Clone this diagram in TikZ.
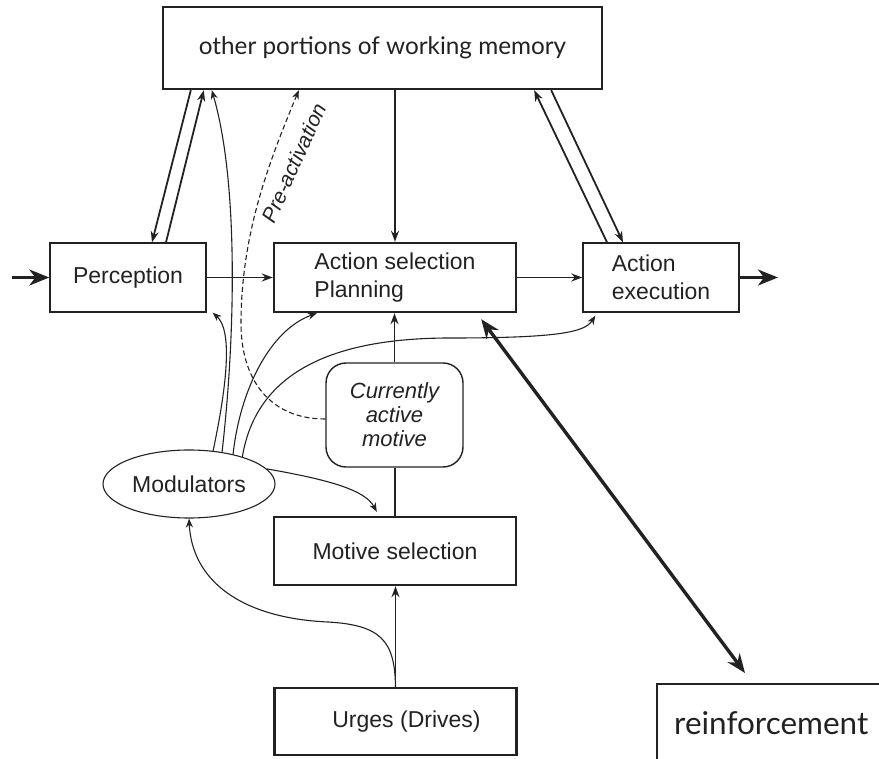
\documentclass[tikz,border=0pt]{standalone}
\usepackage{fontspec}
\setmainfont{Liberation Sans}
\newfontfamily\gillfont{Lato}
\usetikzlibrary{arrows.meta,shapes.geometric}

\begin{document}
\begin{tikzpicture}[x=1pt,y=-1pt]
% Colors define
\definecolor{myInk}{HTML}{222222}

% Styles
\tikzset{
  box/.style={draw=myInk,line width=1.4pt,minimum height=69pt,inner sep=0pt,text=myInk,font=\fontsize{23}{28}\selectfont},
  boldbox/.style={box,line width=2.4pt,minimum width=242pt},
  thinbox/.style={box,minimum width=156pt},
  arr/.style={myInk,line width=1.8pt,-{Stealth[length=11pt,width=8pt]}},
  thinarr/.style={myInk,line width=1.1pt,-{Stealth[length=9pt,width=7pt]}},
  bigarr/.style={myInk,line width=2.4pt,-{Stealth[length=20pt,width=16pt,inset=6pt]}},
}

\useasboundingbox (0,0) rectangle (879,759);

% Boxes
\node[boldbox,minimum width=439pt,minimum height=82pt,font=\gillfont\fontsize{24.3}{28}\selectfont] (mem) at (382.5,48) {other portions of working memory};
\node[thinbox] (perc) at (128,277.5) {Perception};
\node[boldbox,align=left] (plan) at (395,277.5) {Action selection\\Planning};
\node[thinbox,align=left] (exec) at (661,277.5) {Action\\execution};
\node[box,rounded corners=20pt,minimum width=137pt,minimum height=104pt,align=center,font=\itshape\fontsize{22}{24}\selectfont] (motive) at (394.5,415) {Currently\\active\\motive};
\node[box,ellipse,line width=1.1pt,minimum width=172pt,minimum height=68pt] (mod) at (189,484) {Modulators};
\node[boldbox,minimum height=68pt] (msel) at (395,551) {Motive selection};
\node[boldbox,minimum height=67pt] (urges) at (395.5,721.5) {\hspace{22pt}Urges (Drives)};
\node[box,line width=2.4pt,anchor=north west,inner xsep=17pt,text width=216pt,minimum height=78pt,align=left,font=\gillfont\fontsize{31.5}{34}\selectfont] (reinf) at (656,683) {reinforcement};

% In and out
\coordinate (in) at (12,277.5);
\coordinate (out) at (778,277.5);
\draw[bigarr] (in) -- (perc.west);
\draw[bigarr] (exec.east) -- (out);

% Main flow
\draw[arr] (perc.east) -- (plan.west);
\draw[arr] (plan.east) -- (exec.west);
\draw[arr] (mem.south -| plan) -- (plan.north);
\draw[arr] (motive.north) -- (motive.north |- plan.south);
\draw[myInk,line width=1.8pt] (msel.north) -- (msel.north |- motive.south);
\draw[arr] (urges.north) -- (urges.north |- msel.south);

% Working memory links
\draw[arr] ([xshift=29pt]mem.south west) -- ([xshift=24pt]perc.north);
\draw[arr] ([xshift=38pt]perc.north) -- ([xshift=42pt]mem.south west);
\draw[arr] ([xshift=-54pt]exec.north) -- ([xshift=-69pt]mem.south east);
\draw[arr] ([xshift=-52pt]mem.south east) -- ([xshift=-38pt]exec.north);

% Modulators
\draw[thinarr] (mod.54) .. controls (228,380) and (232,330) .. ([xshift=6pt]perc.south east);
\draw[thinarr] (mod.44) .. controls (236,330) and (238,180) .. ([xshift=50pt]mem.south west);
\draw[thinarr] (mod.34) .. controls (240,390) and (270,330) .. ([xshift=44pt]plan.south west);
\draw[thinarr] (mod.27) .. controls (255,380) and (320,338) .. (450,338) .. controls (560,338) and (585,332) .. ([xshift=13pt,yshift=-3pt]exec.south west);
\draw[thinarr] (mod.11) .. controls (330,480) and (365,490) .. ([xshift=104pt,yshift=4pt]msel.north west);
\draw[thinarr] (urges.north) .. controls (395,640) and (380,625) .. (328,622) .. controls (240,618) and (192,580) .. (mod.south);

% Pre-activation
\draw[thinarr,dash pattern=on 5pt off 3pt] ([yshift=-4pt]motive.west) .. controls (270,419) and (240,380) .. (241,320) .. controls (242,230) and (270,160) .. ([xshift=137pt]mem.south west);
\node[rotate=66,text=myInk,font=\itshape\fontsize{21}{24}\selectfont] (pre) at (294,163) {Pre-activation};

% Reinforcement
\draw[myInk,line width=3.4pt,{Stealth[length=19pt,width=15pt]}-{Stealth[length=19pt,width=15pt]}] ([xshift=-36pt,yshift=-6pt]plan.south east) -- ([xshift=89pt,yshift=10pt]reinf.north west);
\end{tikzpicture}
\end{document}
